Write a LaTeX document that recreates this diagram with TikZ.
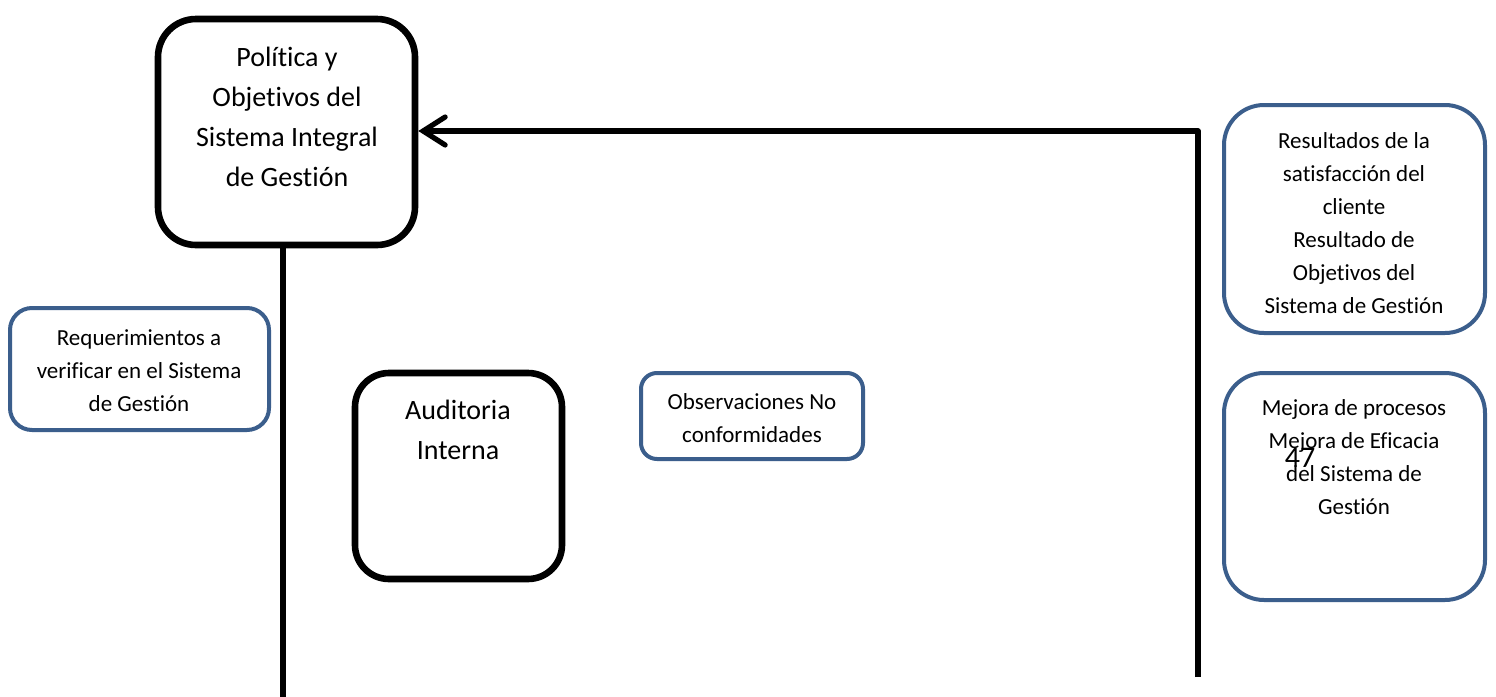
\documentclass[tikz,border=0pt]{standalone}
\usepackage{fontspec}
\setmainfont{Carlito}[RawFeature={-liga}]
\usetikzlibrary{fit,arrows.meta}
\definecolor{wblue}{HTML}{3B5E8C}
\tikzset{
  bbox/.style={draw=black, line width=3.3pt, rounded corners=#1, inner sep=0pt},
  ubox/.style={draw=wblue, line width=2pt, rounded corners=#1, inner sep=0pt},
  bigtxt/.style={align=center, inner sep=0pt, font=\fontsize{14pt}{20pt}\selectfont},
  smalltxt/.style={align=center, inner sep=0pt, font=\fontsize{11.5pt}{16.5pt}\selectfont},
  wire/.style={draw=black, line width=2.6pt},
  arr/.style={wire, -{Straight Barb[length=11pt,width=14pt,line cap=round]}, line join=round}
}
\begin{document}
\begin{tikzpicture}[x=0.5pt,y=-0.5pt]
\fill[white] (0,0) rectangle (1496,697);
\useasboundingbox (0,0) rectangle (1496,697);

% boxes
\node[bbox=19pt, fit={(158,19) (415,245)}] (pol) {};
\node[bbox=17pt, fit={(355,373) (562,579)}] (aud) {};
\node[ubox=11pt, fit={(10,308) (269,430)}] (req) {};
\node[ubox=8pt, fit={(641,373) (863,459)}] (obs) {};
\node[ubox=20pt, fit={(1224,105) (1485,333)}] (res) {};
\node[ubox=20pt, fit={(1224,373) (1485,600)}] (mej) {};

% texts
\node[bigtxt] (polt) at (287,117) {Política y\\Objetivos del\\Sistema Integral\\de Gestión};
\node[bigtxt] (audt) at (458,430) {Auditoria\\Interna};
\node[smalltxt] (reqt) at (139,371) {Requerimientos a\\verificar en el Sistema\\de Gestión};
\node[smalltxt] (obst) at (752,418) {Observaciones No\\conformidades};
\node[smalltxt] (rest) at (1354,223) {Resultados de la\\satisfacción del\\cliente\\Resultado de\\Objetivos del\\Sistema de Gestión};
\node[smalltxt] (mejt) at (1354,457) {Mejora de procesos\\Mejora de Eficacia\\del Sistema de\\Gestión};
\node[inner sep=0pt, font=\fontsize{15pt}{18pt}\selectfont] (pg) at (1300,458) {47};

% connectors
\coordinate (rb) at (1198,677);
\coordinate (rtop) at (1198,131);
\coordinate (lb) at (283,697);
\draw[arr] (rb) -- (rtop) -- (pol.east |- rtop);
\draw[wire] (lb |- pol.south) -- (lb);
\end{tikzpicture}
\end{document}
